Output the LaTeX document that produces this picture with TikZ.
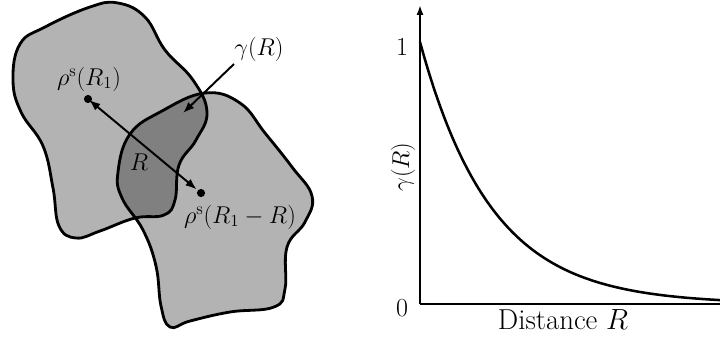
\documentclass[tikz,border=0pt]{standalone}
\usepackage{amsmath}
\usepackage{xcolor}
\usepackage{tikz}
\usetikzlibrary{arrows.meta}
\definecolor{grisclair}{RGB}{179, 179, 179}
\definecolor{grisfonce}{RGB}{128, 128, 128}
% contours des deux nuages
\newcommand{\nuageA}{plot[smooth cycle, tension=0.7] coordinates {(20,44) (45,27) (90,7) (118,3) (145,17) (165,50) (193,80) (207,112) (196,140) (179,165) (175,200) (164,215) (135,218) (100,231) (76,238) (59,226) (53,188) (43,146) (21,112) (13,80)}}
\newcommand{\nuageB}{plot[smooth cycle, tension=0.7] coordinates {(205,93) (240,103) (265,133) (292,167) (312,196) (305,222) (287,247) (285,289) (274,307) (230,312) (190,321) (170,327) (161,306) (156,266) (143,230) (122,198) (118,172) (130,134) (162,111)}}

\begin{document}
\begin{tikzpicture}[x=0.025cm, y=-0.025cm, font=\fontsize{18.5}{22}\selectfont,
    contour/.style={line width=2pt, line join=round},
    fleche/.style={line width=1.4pt, -{Latex[length=8pt, width=6pt]}},
    axe/.style={line width=1.6pt}]
    \useasboundingbox (0,0) rectangle (720,338);
    % nuages
    \fill[grisclair] \nuageA;
    \fill[grisclair] \nuageB;
    \begin{scope}
      \clip \nuageA;
      \fill[grisfonce] \nuageB;
    \end{scope}
    \draw[contour] \nuageA;
    \draw[contour] \nuageB;
    % points et distance
    \coordinate (r1) at (88,99);
    \coordinate (r2) at (201,193);
    \fill (r1) circle (2.9pt);
    \fill (r2) circle (2.9pt);
    \draw[fleche, {Latex[length=8pt, width=6pt]}-{Latex[length=8pt, width=6pt]}, shorten <=1pt, shorten >=4pt] (r1) -- (r2);
    \node (lr1) at (89,79) {$\rho^{\mathrm{s}}(R_1)$};
    \node (lr2) at (240,217) {$\rho^{\mathrm{s}}(R_1-R)$};
    \node (lR) at (139,162) {$R$};
    % recouvrement
    \node (lgam) at (259,49) {$\gamma(R)$};
    \coordinate (dep) at (234,64);
    \coordinate (recouv) at (183,113);
    \draw[fleche] (dep) -- (recouv);
    % courbe gamma(R)
    \coordinate (orig) at (420,304);
    \coordinate (haut) at (420,5);
    \coordinate (droite) at (720,304);
    \draw[axe, -{Latex[length=7pt, width=5pt]}] (orig) -- (haut);
    \draw[axe] (orig) -- (droite);
    \draw[line width=1.8pt] plot[domain=0:300, samples=80, smooth] ({420+\x}, {304-262*exp(-4.2*\x/300)});
    \node (un) at (402,47) {1};
    \node (zero) at (402,308) {0};
    \node[rotate=90] (ylab) at (403,167) {$\gamma(R)$};
    \node[font=\fontsize{20.5}{24}\selectfont] (xlab) at (563,320) {Distance $R$};
\end{tikzpicture}
\end{document}
